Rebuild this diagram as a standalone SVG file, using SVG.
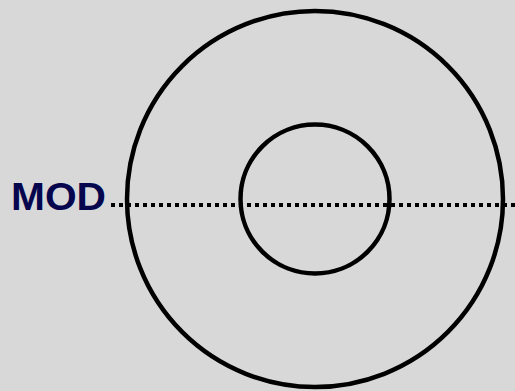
<svg xmlns="http://www.w3.org/2000/svg" width="515" height="391" viewBox="0 0 515 391">
<style>
.ring{fill:none;stroke:#000;stroke-width:4.5}
.cut{stroke:#000;stroke-width:4;stroke-dasharray:4 4}
.lbl{font-family:"Liberation Sans",Arial,sans-serif;font-weight:bold;font-size:38px;fill:#06064e}
</style>
<rect width="515" height="391" fill="#d8d8d8"/>
<g id="outer"><circle class="ring" cx="315" cy="199" r="188"/></g>
<g id="inner"><circle class="ring" cx="315" cy="199" r="74.5"/></g>
<g id="connectors"><line class="cut" x1="111" y1="205" x2="515" y2="205"/></g>
<g id="label"><text class="lbl" x="11" y="210" textLength="95" lengthAdjust="spacingAndGlyphs">MOD</text></g>
</svg>
